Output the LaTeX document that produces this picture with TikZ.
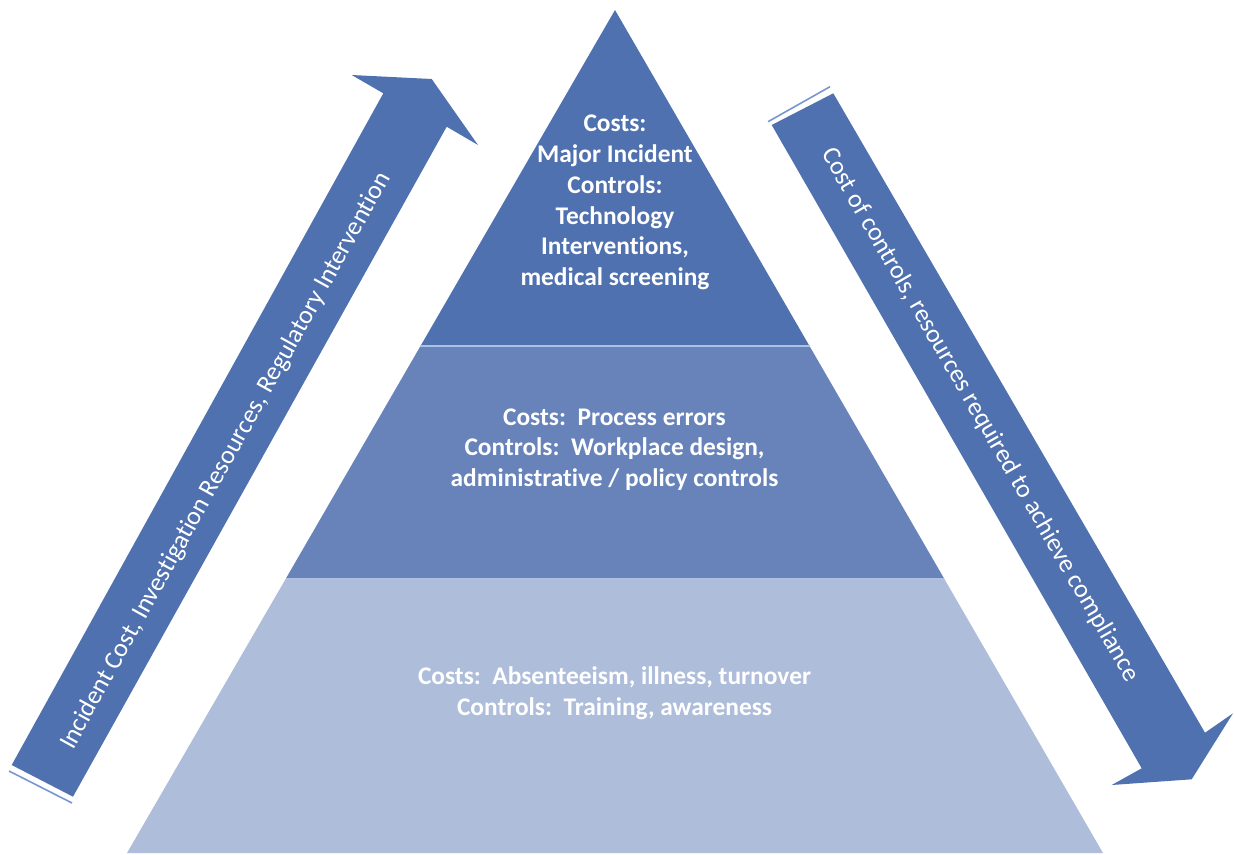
\documentclass[tikz,border=0pt]{standalone}
\usepackage{fontspec}
\setmainfont{Carlito}[RawFeature={-liga;-clig;-dlig}]
\usetikzlibrary{calc}
\definecolor{topblue}{RGB}{79,113,175}
\definecolor{midblue}{RGB}{103,131,186}
\definecolor{lowblue}{RGB}{174,189,218}
\definecolor{arrowblue}{RGB}{79,113,175}
\definecolor{edgeline}{RGB}{172,192,226}
\definecolor{tailline}{RGB}{120,150,210}
\begin{document}
\begin{tikzpicture}[x=1pt,y=-1pt,
  ptext/.style={text=white, font=\fontsize{25.4}{30.8}\selectfont\bfseries, align=center, inner sep=0pt},
  atext/.style={text=white, font=\fontsize{25.8}{30}\selectfont, inner sep=0pt},
  divider/.style={draw=edgeline, line width=1.5pt},
  tailmark/.style={draw=tailline, line width=1.6pt},
  bigarrow/.style={fill=arrowblue, draw=none}]
\useasboundingbox (0,0) rectangle (1234,854);
% pyramid
\coordinate (apex) at (615,10);
\coordinate (bl) at (127,853);
\coordinate (br) at (1103,853);
\coordinate (l1) at ($(apex)!0.3986!(bl)$);
\coordinate (r1) at ($(apex)!0.3986!(br)$);
\coordinate (l2) at ($(apex)!0.675!(bl)$);
\coordinate (r2) at ($(apex)!0.675!(br)$);
\fill[topblue] (apex) -- (l1) -- (r1) -- cycle;
\fill[midblue] (l1) -- (r1) -- (r2) -- (l2) -- cycle;
\fill[lowblue] (l2) -- (r2) -- (br) -- (bl) -- cycle;
\draw[divider] (l1) -- (r1);
\draw[divider] (l2) -- (r2);
% left arrow
\fill[bigarrow] (11.7,765) -- (383.3,93.3) -- (351.7,75) -- (431.7,79) -- (478,145) -- (446.7,126.7) -- (73,796.7) -- cycle;
\draw[tailmark] (9,771) -- (72,803);
% right arrow
\fill[bigarrow] (771.7,125) -- (833.3,93.3) -- (1205,732.7) -- (1233,713.3) -- (1191.7,779.3) -- (1111.7,785) -- (1141.7,768.3) -- cycle;
\draw[tailmark] (768,121.7) -- (830,86.7);
% texts
\node[atext, rotate=61] (lefttext) at (226,461) {Incident Cost, Investigation Resources, Regulatory Intervention};
\node[atext, rotate=-60] (righttext) at (980,415) {Cost of controls, resources required to achieve compliance};
\node[ptext] (toptext) at (615,202.5) {Costs:\\Major Incident\\Controls:\\Technology\\Interventions,\\medical screening};
\node[ptext] (midtext) at (614.5,449.5) {Costs:\ \ Process errors\\Controls:\ \ Workplace design,\\administrative / policy controls};
\node[ptext] (lowtext) at (614.5,693.5) {Costs:\ \ Absenteeism, illness, turnover\\Controls:\ \ Training, awareness};
\end{tikzpicture}
\end{document}
